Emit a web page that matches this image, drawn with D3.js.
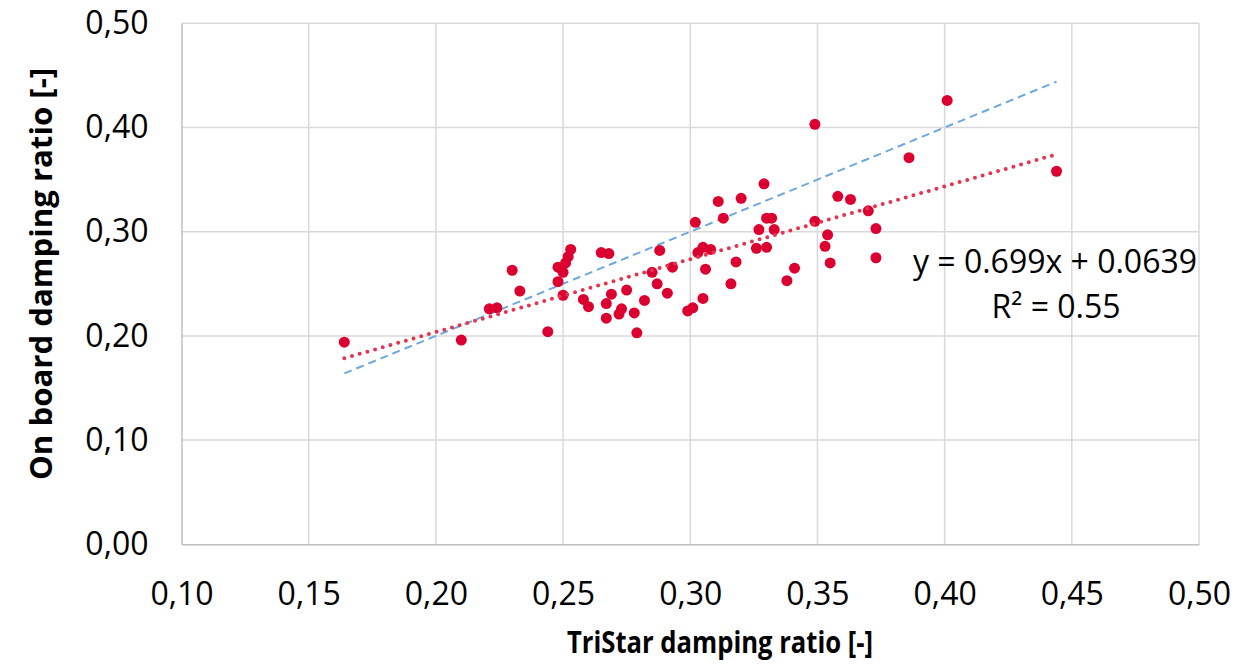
<!DOCTYPE html>
<html>
<head>
<meta charset="utf-8">
<script src="https://cdn.jsdelivr.net/npm/d3@7"></script>
<style>
  html, body { margin: 0; padding: 0; background: #fff; }
  svg { display: block; }
</style>
</head>
<body>
<svg id="chart" width="1258" height="666"></svg>
<script>
// ---- Data ----
const tristar = [0.164,0.210,0.221,0.224,0.230,0.233,0.244,0.248,0.248,0.250,0.251,0.252,0.253,0.250,
  0.258,0.260,0.265,0.268,0.267,0.269,0.267,0.272,0.273,0.275,0.278,0.279,0.282,0.285,0.287,0.288,
  0.291,0.293,0.299,0.301,0.305,0.306,0.303,0.305,0.308,0.302,0.311,0.320,0.329,0.313,0.327,0.330,
  0.332,0.333,0.349,0.354,0.353,0.355,0.358,0.363,0.318,0.326,0.330,0.316,0.341,0.338,0.370,0.373,
  0.373,0.386,0.401,0.444,0.349];
const onboard = [0.194,0.196,0.226,0.227,0.263,0.243,0.204,0.266,0.252,0.261,0.270,0.276,0.283,0.239,
  0.235,0.228,0.280,0.279,0.231,0.240,0.217,0.221,0.226,0.244,0.222,0.203,0.234,0.261,0.250,0.282,
  0.241,0.266,0.224,0.227,0.236,0.264,0.280,0.285,0.283,0.309,0.329,0.332,0.346,0.313,0.302,0.313,
  0.313,0.302,0.310,0.297,0.286,0.270,0.334,0.331,0.271,0.284,0.285,0.250,0.265,0.253,0.320,0.303,
  0.275,0.371,0.426,0.358,0.403];
const xTicks = [0.10,0.15,0.20,0.25,0.30,0.35,0.40,0.45,0.50];
const yTicks = [0.00,0.10,0.20,0.30,0.40,0.50];
const fitSlope = 0.699;
const fitIntercept = 0.0639;
const fitR2 = 0.55;

// ---- Layout ----
const svg = d3.select("#chart");
const pLeft = 181.5, pRight = 1199, pTop = 23.3, pBottom = 544.3;
const x = d3.scaleLinear().domain([0.10, 0.50]).range([pLeft, pRight]);
const y = d3.scaleLinear().domain([0.00, 0.50]).range([pBottom, pTop]);
const fmt = v => d3.format(".2f")(v).replace(".", ",");
const font = "'Open Sans', 'Liberation Sans', sans-serif";

// gridlines
svg.append("g").selectAll("line").data(xTicks.slice(1)).join("line")
  .attr("x1", d => x(d)).attr("x2", d => x(d))
  .attr("y1", pTop).attr("y2", pBottom)
  .attr("stroke", "#d9d9d9").attr("stroke-width", 1.5);
svg.append("g").selectAll("line").data(yTicks.slice(1)).join("line")
  .attr("x1", pLeft).attr("x2", pRight)
  .attr("y1", d => y(d)).attr("y2", d => y(d))
  .attr("stroke", "#d9d9d9").attr("stroke-width", 1.5);

// axes via d3
const xAxis = d3.axisBottom(x).tickValues(xTicks).tickFormat(fmt).tickSize(0).tickPadding(38);
const yAxis = d3.axisLeft(y).tickValues(yTicks).tickFormat(fmt).tickSize(0).tickPadding(33);
const gx = svg.append("g").attr("transform", `translate(0,${pBottom})`).call(xAxis);
const gy = svg.append("g").attr("transform", `translate(${pLeft},0)`).call(yAxis);
[gx, gy].forEach(g => {
  g.select(".domain").attr("stroke", "#bfbfbf").attr("stroke-width", 1.5);
  g.selectAll("text").attr("font-family", font).attr("font-size", 32).attr("fill", "#000");
});
gx.selectAll("text").attr("dy", 0).attr("y", 61);

// y = x reference line
const xMin = d3.min(tristar), xMax = d3.max(tristar);
svg.append("line")
  .attr("x1", x(xMin)).attr("y1", y(xMin))
  .attr("x2", x(xMax)).attr("y2", y(xMax))
  .attr("stroke", "#6fa8dc").attr("stroke-width", 2)
  .attr("stroke-dasharray", "8 5");

// points
svg.append("g").selectAll("circle").data(tristar.map((v, i) => [v, onboard[i]])).join("circle")
  .attr("cx", d => x(d[0])).attr("cy", d => y(d[1])).attr("r", 5.5)
  .attr("fill", "#dc0030");

// linear trendline
svg.append("line")
  .attr("x1", x(xMin)).attr("y1", y(fitSlope * xMin + fitIntercept))
  .attr("x2", x(xMax)).attr("y2", y(fitSlope * xMax + fitIntercept))
  .attr("stroke", "#e4344f").attr("stroke-width", 4)
  .attr("stroke-linecap", "round")
  .attr("stroke-dasharray", "0 8");

// equation text
svg.append("text").attr("x", 1055).attr("y", 273).attr("text-anchor", "middle")
  .attr("font-family", font).attr("font-size", 32).attr("fill", "#000")
  .text(`y = ${fitSlope}x + ${fitIntercept}`);
svg.append("text").attr("x", 1056).attr("y", 318).attr("text-anchor", "middle")
  .attr("font-family", font).attr("font-size", 32).attr("fill", "#000")
  .text(`R² = ${fitR2}`);

// axis titles
svg.append("text").attr("x", 720).attr("y", 653).attr("text-anchor", "middle")
  .attr("font-family", font).attr("font-weight", "bold").attr("font-size", 30)
  .attr("textLength", 306).attr("lengthAdjust", "spacingAndGlyphs")
  .text("TriStar damping ratio [-]");
svg.append("text").attr("transform", "translate(52,274) rotate(-90)").attr("text-anchor", "middle")
  .attr("font-family", font).attr("font-weight", "bold").attr("font-size", 30)
  .attr("textLength", 412).attr("lengthAdjust", "spacingAndGlyphs")
  .text("On board damping ratio [-]");
</script>
</body>
</html>
